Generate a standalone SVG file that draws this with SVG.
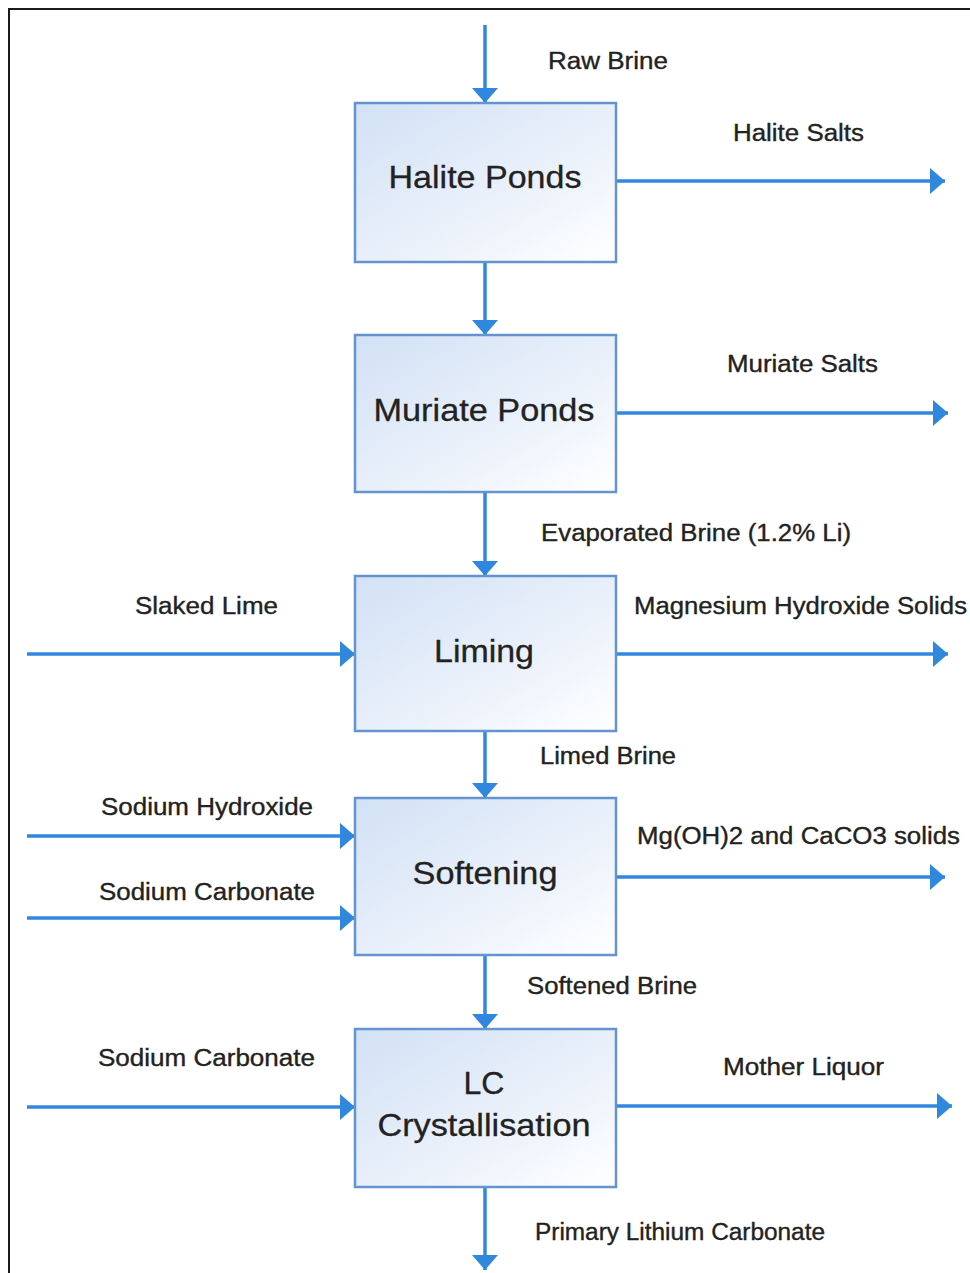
<svg xmlns="http://www.w3.org/2000/svg" width="970" height="1273" viewBox="0 0 970 1273">
<defs>
<linearGradient id="boxfill" x1="0" y1="0" x2="1" y2="1">
<stop offset="0" stop-color="#d2e1f5"/>
<stop offset="0.55" stop-color="#e9f0fa"/>
<stop offset="1" stop-color="#ffffff"/>
</linearGradient>
<marker id="ah" viewBox="0 0 15 26" refX="15" refY="13" markerWidth="15" markerHeight="26" orient="auto" markerUnits="userSpaceOnUse">
<path d="M0,0 L15,13 L0,26 z" fill="#2f87de"/>
</marker>
<style>
.box{fill:url(#boxfill);stroke:#6494d0;stroke-width:2.5}
.blabel{font-family:"Liberation Sans",Arial,sans-serif;font-size:32px;fill:#222222;stroke:#222222;stroke-width:0.3;text-anchor:middle}
.label{font-family:"Liberation Sans",Arial,sans-serif;font-size:23px;fill:#222222;stroke:#222222;stroke-width:0.35}
.conn{stroke:#2f87de;stroke-width:3.5;fill:none;marker-end:url(#ah)}
.frame{stroke:#1a1a1a;stroke-width:2;fill:none}
</style>
</defs>
<rect width="970" height="1273" fill="#ffffff"/>
<path class="frame" d="M9,1273 L9,9 L970,9"/>

<g id="connectors">
<line class="conn" x1="485" y1="25" x2="485" y2="103"/>
<line class="conn" x1="485" y1="262" x2="485" y2="335"/>
<line class="conn" x1="485" y1="492" x2="485" y2="576"/>
<line class="conn" x1="485" y1="731" x2="485" y2="798"/>
<line class="conn" x1="485" y1="955" x2="485" y2="1029"/>
<line class="conn" x1="485" y1="1187" x2="485" y2="1270"/>
<line class="conn" x1="616" y1="181" x2="945" y2="181"/>
<line class="conn" x1="616" y1="413" x2="948" y2="413"/>
<line class="conn" x1="616" y1="654" x2="948" y2="654"/>
<line class="conn" x1="616" y1="877" x2="945" y2="877"/>
<line class="conn" x1="616" y1="1106" x2="952" y2="1106"/>
<line class="conn" x1="27" y1="654" x2="355" y2="654"/>
<line class="conn" x1="27" y1="836" x2="355" y2="836"/>
<line class="conn" x1="27" y1="918" x2="355" y2="918"/>
<line class="conn" x1="27" y1="1107" x2="355" y2="1107"/>
</g>

<g id="labels">
<text class="label" x="548" y="69" textLength="120" lengthAdjust="spacingAndGlyphs">Raw Brine</text>
<text class="label" x="733" y="141" textLength="131" lengthAdjust="spacingAndGlyphs">Halite Salts</text>
<text class="label" x="727" y="372" textLength="151" lengthAdjust="spacingAndGlyphs">Muriate Salts</text>
<text class="label" x="541" y="541" textLength="310" lengthAdjust="spacingAndGlyphs">Evaporated Brine (1.2% Li)</text>
<text class="label" x="135" y="614" textLength="143" lengthAdjust="spacingAndGlyphs">Slaked Lime</text>
<text class="label" x="634" y="614" textLength="333" lengthAdjust="spacingAndGlyphs">Magnesium Hydroxide Solids</text>
<text class="label" x="540" y="764" textLength="136" lengthAdjust="spacingAndGlyphs">Limed Brine</text>
<text class="label" x="101" y="815" textLength="212" lengthAdjust="spacingAndGlyphs">Sodium Hydroxide</text>
<text class="label" x="637" y="844" textLength="323" lengthAdjust="spacingAndGlyphs">Mg(OH)2 and CaCO3 solids</text>
<text class="label" x="99" y="900" textLength="216" lengthAdjust="spacingAndGlyphs">Sodium Carbonate</text>
<text class="label" x="527" y="994" textLength="170" lengthAdjust="spacingAndGlyphs">Softened Brine</text>
<text class="label" x="98" y="1066" textLength="217" lengthAdjust="spacingAndGlyphs">Sodium Carbonate</text>
<text class="label" x="723" y="1075" textLength="161" lengthAdjust="spacingAndGlyphs">Mother Liquor</text>
<text class="label" x="535" y="1240" textLength="290" lengthAdjust="spacingAndGlyphs">Primary Lithium Carbonate</text>
</g>

<g id="halite-ponds">
<rect class="box" x="355" y="103" width="261" height="159"/>
<text class="blabel" x="485" y="188" textLength="193" lengthAdjust="spacingAndGlyphs">Halite Ponds</text>
</g>
<g id="muriate-ponds">
<rect class="box" x="355" y="335" width="261" height="157"/>
<text class="blabel" x="484" y="421" textLength="221" lengthAdjust="spacingAndGlyphs">Muriate Ponds</text>
</g>
<g id="liming">
<rect class="box" x="355" y="576" width="261" height="155"/>
<text class="blabel" x="484" y="662" textLength="100" lengthAdjust="spacingAndGlyphs">Liming</text>
</g>
<g id="softening">
<rect class="box" x="355" y="798" width="261" height="157"/>
<text class="blabel" x="485" y="884" textLength="145" lengthAdjust="spacingAndGlyphs">Softening</text>
</g>
<g id="lc-crystallisation">
<rect class="box" x="355" y="1029" width="261" height="158"/>
<text class="blabel" x="484" y="1094">LC</text>
<text class="blabel" x="484" y="1136" textLength="213" lengthAdjust="spacingAndGlyphs">Crystallisation</text>
</g>
</svg>
